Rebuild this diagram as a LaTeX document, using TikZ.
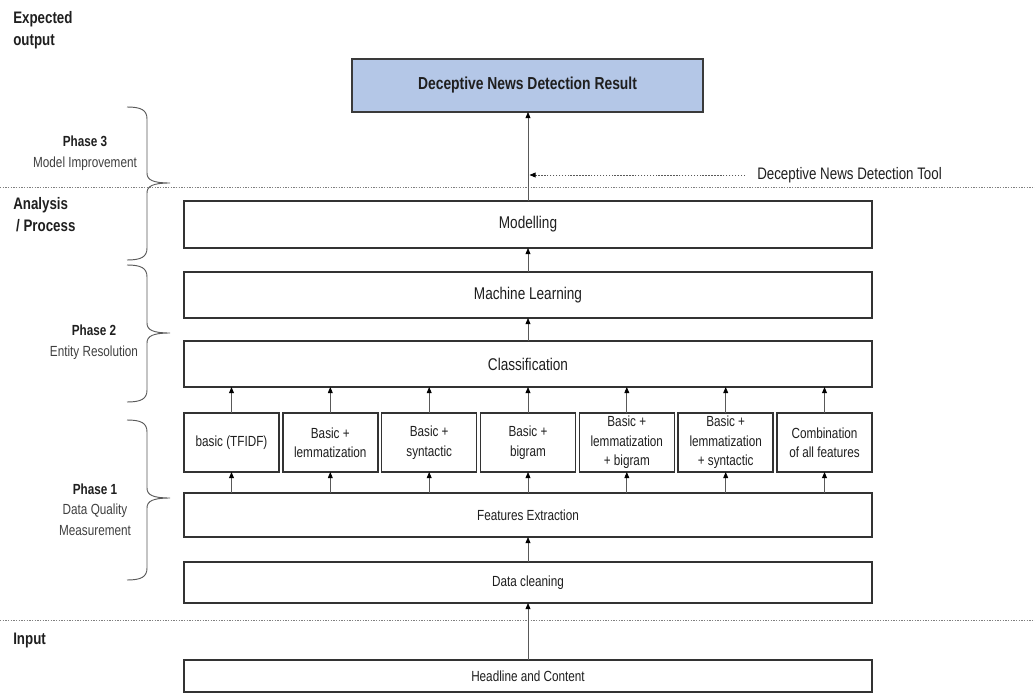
\documentclass[tikz,border=0pt]{standalone}
\usepackage{fontspec}
\setmainfont{Liberation Sans}[FakeStretch=0.8]
\usetikzlibrary{arrows.meta}
\definecolor{boxline}{HTML}{333333}
\definecolor{resline}{HTML}{3A3A3A}
\definecolor{resfill}{HTML}{B4C7E7}
\definecolor{txt}{HTML}{1F1F1F}
\definecolor{subtxt}{HTML}{3F3F3F}
\definecolor{arr}{HTML}{595959}
\definecolor{sepc}{HTML}{7F7F7F}
\newcommand\phbrace[3]{\draw[bracestyle] (127,#1) .. controls (141,#1) and (147,#1+3) .. (147,#1+12) -- (147,#2-10) .. controls (147,#2-3) and (153,#2) .. (170,#2) .. controls (153,#2) and (147,#2+3) .. (147,#2+10) -- (147,#3-12) .. controls (147,#3-3) and (141,#3) .. (127,#3);}
\begin{document}
\begin{tikzpicture}[x=0.75pt,y=-0.75pt,
  box/.style={draw=boxline, line width=1.1pt, fill=white, inner sep=0pt, outer sep=0pt, text=txt, align=center},
  big/.style={box, minimum width=516pt, font=\fontsize{12.75}{15}\selectfont},
  bigs/.style={box, minimum width=516pt, font=\fontsize{11}{13}\selectfont},
  feat/.style={box, minimum width=71.25pt, minimum height=44.25pt, font=\fontsize{11}{14.6}\selectfont},
  resbox/.style={draw=resline, line width=1.5pt, fill=resfill, inner sep=0pt, outer sep=0pt, text=txt, minimum width=263.25pt, minimum height=39.75pt, font=\bfseries\fontsize{13}{15}\selectfont},
  arrowline/.style={draw=arr, line width=0.6pt, -{Triangle[length=4.5pt,width=3.6pt,color=black]}},
  dasharrow/.style={draw=arr, line width=0.6pt, dash pattern=on 1.1pt off 1.1pt, -{Triangle[length=4.5pt,width=3.6pt,color=black]}},
  sepline/.style={draw=sepc, line width=0.6pt, dash pattern=on 1pt off 1pt},
  bracestyle/.style={draw=arr, line width=0.7pt},
  head/.style={inner sep=0pt, anchor=west, align=left, text=txt, font=\bfseries\fontsize{12.5}{16.5}\selectfont},
  phase/.style={inner sep=0pt, align=center, text=subtxt, font=\fontsize{11}{15.5}\selectfont},
  tooltext/.style={inner sep=0pt, anchor=west, text=txt, font=\fontsize{12.5}{15}\selectfont}
]
\useasboundingbox (0,0) rectangle (1035,699);

% separators
\coordinate (s1l) at (0,187); \coordinate (s1r) at (1035,187);
\coordinate (s2l) at (0,620); \coordinate (s2r) at (1035,620);
\draw[sepline] (s1l) -- (s1r);
\draw[sepline] (s2l) -- (s2r);

% left headings
\node[head] (eo) at (13,30) {Expected\\output};
\node[head] (ap) at (13,214.5) {Analysis\\\hspace*{2.2pt}/ Process};
\node[head] (inp) at (13,640) {Input};

% phase labels
\node[phase] (p3) at (85,153.5) {\textbf{\color{txt}Phase 3}\\Model Improvement};
\node[phase] (p2) at (94,342.5) {\textbf{\color{txt}Phase 2}\\Entity Resolution};
\node[phase] (p1) at (95,509.5) {\textbf{\color{txt}Phase 1}\\Data Quality\\Measurement};

% braces
\phbrace{107}{183}{260}
\phbrace{265}{333}{402}
\phbrace{420}{498}{580}

% boxes
\node[resbox] (res) at (527.5,85.5) {Deceptive News Detection Result};
\node[big, minimum height=35.25pt] (mod) at (528,224.5) {Modelling};
\node[big, minimum height=34.5pt] (ml) at (528,295) {Machine Learning};
\node[big, minimum height=34.5pt] (cls) at (528,364) {Classification};
\node[feat] (f1) at (231.5,442.5) {basic (TFIDF)};
\node[feat] (f2) at (330.3,442.5) {Basic +\\lemmatization};
\node[feat] (f3) at (429.2,442.5) {Basic +\\syntactic};
\node[feat] (f4) at (528,442.5) {Basic +\\bigram};
\node[feat] (f5) at (626.8,442.5) {Basic +\\lemmatization\\+ bigram};
\node[feat] (f6) at (725.7,442.5) {Basic +\\lemmatization\\+ syntactic};
\node[feat] (f7) at (824.5,442.5) {Combination\\of all features};
\node[bigs, minimum height=33pt] (fe) at (528,515) {Features Extraction};
\node[bigs, minimum height=30.75pt] (dc) at (528,582.5) {Data cleaning};
\node[bigs, minimum height=24pt] (hc) at (528,676) {Headline and Content};

% arrows
\draw[arrowline] (hc.north) -- (dc.south);
\draw[arrowline] (dc.north) -- (fe.south);
\foreach \f in {f1,f2,f3,f4,f5,f6,f7}{
  \draw[arrowline] (\f.south |- fe.north) -- (\f.south);
  \draw[arrowline] (\f.north) -- (\f.north |- cls.south);
}
\draw[arrowline] (cls.north) -- (ml.south);
\draw[arrowline] (ml.north) -- (mod.south);
\draw[arrowline] (mod.north) -- (mod.north |- res.south);

% tool
\node[tooltext] (tool) at (757,175) {Deceptive News Detection Tool};
\coordinate (toolhit) at (529.5,175);
\draw[dasharrow] ([xshift=-9pt]tool.west) -- (toolhit);
\end{tikzpicture}
\end{document}
